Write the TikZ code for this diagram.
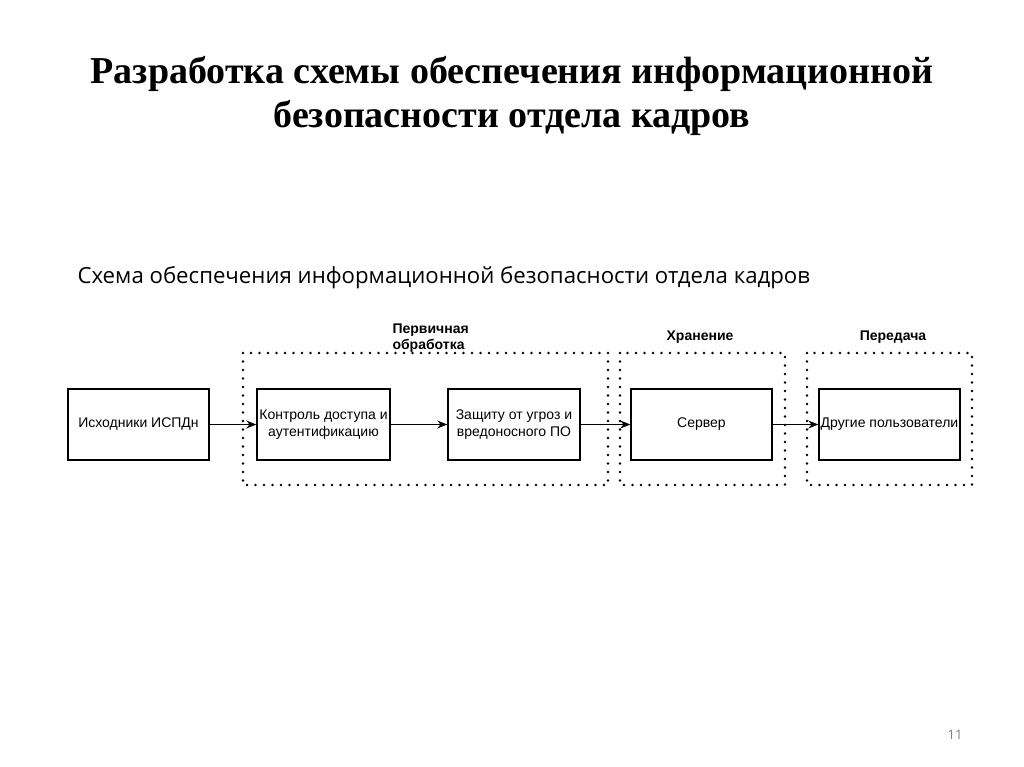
\documentclass[tikz,border=0pt]{standalone}
\usepackage{fontspec}
\setmainfont{Liberation Serif}
\newfontfamily\boxfont{Liberation Sans}
\newfontfamily\subfont{Open Sans}
\usetikzlibrary{arrows.meta}
\begin{document}
\begin{tikzpicture}[x=1pt,y=-1pt,
  blk/.style={draw,line width=1.5pt,minimum width=141pt,minimum height=71pt,font=\boxfont\fontsize{14}{17}\selectfont,align=center,inner sep=1pt},
  grp/.style={draw,line width=2.8pt,dash pattern=on 0pt off 8.5pt,line cap=round},
  glab/.style={font=\boxfont\bfseries\fontsize{14}{16}\selectfont,align=left},
  arr/.style={-{Stealth[length=10pt,width=8pt]},line width=1.5pt}]
\useasboundingbox[fill=white] (0,0) rectangle (1024,767);
\node[font=\bfseries\fontsize{38}{44}\selectfont,align=center] (title) at (512,96) {Разработка схемы обеспечения информационной\\безопасности отдела кадров};
\node[font=\subfont\fontsize{22.2}{26}\selectfont,anchor=west] (sub) at (74,278) {Схема обеспечения информационной безопасности отдела кадров};
\draw[grp] (243,353) rectangle (608,485);
\draw[grp] (620,353) rectangle (785,485);
\draw[grp] (807,353) rectangle (972,485);
\node[glab,anchor=north west] (g1) at (389,320) {Первичная\\обработка};
\node[glab] (g2) at (700,337) {Хранение};
\node[glab] (g3) at (893,337) {Передача};
\node[blk] (a) at (138.5,424.5) {Исходники ИСПДн};
\node[blk,minimum width=133pt] (b) at (323.5,424.5) {Контроль доступа и\\аутентификацию};
\node[blk,minimum width=132pt] (c) at (514,424.5) {Защиту от угроз и\\вредоносного ПО};
\node[blk] (d) at (701.5,424.5) {Сервер};
\node[blk,inner sep=0pt] (e) at (889.5,424.5) {Другие пользователи};
\draw[arr] (a) -- (b);
\draw[arr] (b) -- (c);
\draw[arr] (c) -- (d);
\draw[arr] (d) -- (e);
\node[font=\subfont\fontsize{13}{15}\selectfont,text=gray] (pn) at (955,735) {11};
\end{tikzpicture}
\end{document}
